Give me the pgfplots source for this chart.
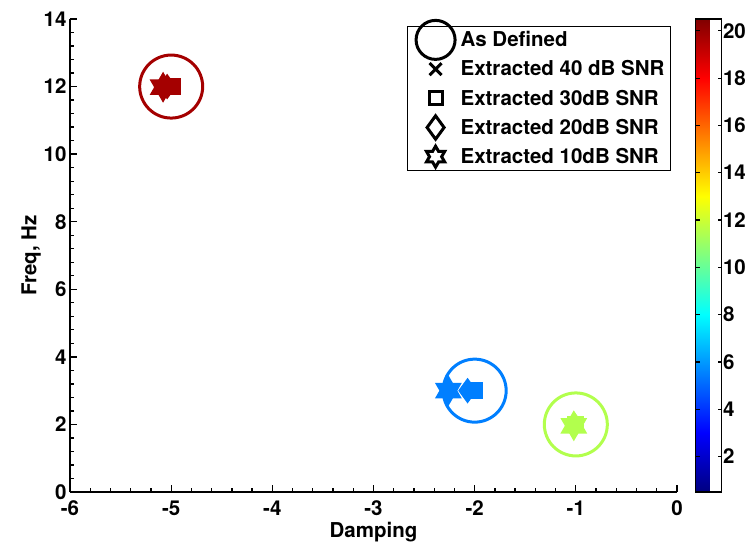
\documentclass[border=0pt]{standalone}
\usepackage{fontspec}
\setmainfont{TeX Gyre Heros}
\usepackage{pgfplots}
\pgfplotsset{compat=1.18}

% six-pointed star outline (outer radius = mark size)
\pgfdeclareplotmark{hexagram}{%
  \pgfpathmoveto{\pgfqpointpolar{90}{\pgfplotmarksize}}%
  \pgfpathlineto{\pgfqpointpolar{120}{0.57735\pgfplotmarksize}}%
  \pgfpathlineto{\pgfqpointpolar{150}{\pgfplotmarksize}}%
  \pgfpathlineto{\pgfqpointpolar{180}{0.57735\pgfplotmarksize}}%
  \pgfpathlineto{\pgfqpointpolar{210}{\pgfplotmarksize}}%
  \pgfpathlineto{\pgfqpointpolar{240}{0.57735\pgfplotmarksize}}%
  \pgfpathlineto{\pgfqpointpolar{270}{\pgfplotmarksize}}%
  \pgfpathlineto{\pgfqpointpolar{300}{0.57735\pgfplotmarksize}}%
  \pgfpathlineto{\pgfqpointpolar{330}{\pgfplotmarksize}}%
  \pgfpathlineto{\pgfqpointpolar{0}{0.57735\pgfplotmarksize}}%
  \pgfpathlineto{\pgfqpointpolar{30}{\pgfplotmarksize}}%
  \pgfpathlineto{\pgfqpointpolar{60}{0.57735\pgfplotmarksize}}%
  \pgfpathclose
  \pgfusepathqfillstroke}
% tall diamond
\pgfdeclareplotmark{tdiamond}{%
  \pgfpathmoveto{\pgfqpoint{0pt}{1.375\pgfplotmarksize}}%
  \pgfpathlineto{\pgfqpoint{\pgfplotmarksize}{0pt}}%
  \pgfpathlineto{\pgfqpoint{0pt}{-1.375\pgfplotmarksize}}%
  \pgfpathlineto{\pgfqpoint{-\pgfplotmarksize}{0pt}}%
  \pgfpathclose
  \pgfusepathqfillstroke}

\newcommand{\chartfont}{\fontsize{20.5}{23}\selectfont\bfseries}

% poles: damping, frequency, colour index
\pgfplotstableread{
x y c
-5 12 19.8
-2 3 5.5
-1 2 11.5
}\defined
\pgfplotstableread{
x y c
-5.00 12.00 19.8
-2.00 3.00 5.5
-1.00 2.00 11.5
}\snrforty
\pgfplotstableread{
x y c
-4.99 12.00 19.8
-2.00 3.00 5.5
-1.00 2.00 11.5
}\snrthirty
\pgfplotstableread{
x y c
-5.04 12.00 19.8
-2.07 3.00 5.5
-1.01 1.98 11.5
}\snrtwenty
\pgfplotstableread{
x y c
-5.08 11.98 19.8
-2.26 3.00 5.5
-1.02 1.96 11.5
}\snrten

\begin{document}
\begin{tikzpicture}
\useasboundingbox (-70pt,-52pt) rectangle (683pt,492pt);
\begin{axis}[
  at={(0pt,0pt)}, anchor=south west,
  scale only axis, width=607pt, height=473pt,
  xmin=-6, xmax=0, ymin=0, ymax=14,
  xtick={-6,-5,...,0}, ytick={0,2,...,14},
  minor x tick num=4, minor y tick num=4,
  axis lines=left, axis line style={-, line width=1.5pt},
  tick align=inside, major tick length=7pt, minor tick length=4pt,
  tick style={black, line width=1.3pt},
  tick label style={font=\chartfont},
  xticklabel style={yshift=-5pt},
  /pgf/number format/assume math mode=true,
  xlabel={Damping}, ylabel={Freq, Hz},
  label style={font=\chartfont},
  ylabel style={yshift=-4pt},
  colormap/jet,
  point meta min=0.5, point meta max=20.5,
  colorbar,
  colorbar style={
    at={(parent axis.south east)}, anchor=south west, xshift=10pt,
    scale only axis, width=26pt, height=473pt,
    ytick={2,4,...,20},
    ytick pos=both, yticklabel pos=right,
    tick align=inside, major tick length=4pt,
    tick style={black, line width=1.2pt},
    axis line style={line width=1.5pt},
    yticklabel style={font=\chartfont, xshift=-2pt},
    /pgf/number format/assume math mode=true,
  },
  legend style={
    at={(1,1)}, anchor=north east, xshift=-6pt, yshift=-7pt,
    font=\chartfont, draw=black, line width=1pt,
    inner xsep=4pt, inner ysep=3pt, row sep=8.5pt,
  },
  legend cell align=left,
]
\addlegendimage{legend image code/.code={
  \draw[overlay, black, line width=3pt, mark=o, mark size=19.5pt] plot coordinates {(24pt,0pt)};
  \path[draw=none, fill=none] (0pt,-6pt) rectangle (47pt,6pt);}}
\addlegendimage{legend image code/.code={
  \draw[overlay, black, line width=3pt, mark=x, mark size=8.5pt] plot coordinates {(24pt,0pt)};
  \path[draw=none, fill=none] (0pt,-6pt) rectangle (47pt,6pt);}}
\addlegendimage{legend image code/.code={
  \draw[overlay, black, fill=white, line width=3pt, mark=square*, mark size=6.5pt] plot coordinates {(24pt,0pt)};
  \path[draw=none, fill=none] (0pt,-6pt) rectangle (47pt,6pt);}}
\addlegendimage{legend image code/.code={
  \draw[overlay, black, fill=white, line width=3pt, mark=tdiamond, mark size=8.5pt] plot coordinates {(24pt,0pt)};
  \path[draw=none, fill=none] (0pt,-6pt) rectangle (47pt,6pt);}}
\addlegendimage{legend image code/.code={
  \draw[overlay, black, fill=white, line width=3pt, mark=hexagram, mark size=10.5pt] plot coordinates {(24pt,0pt)};
  \path[draw=none, fill=none] (0pt,-6pt) rectangle (47pt,6pt);}}

\addplot[forget plot, scatter, only marks, mark=o, mark size=31.5pt,
  line width=3pt, scatter src=explicit,
  scatter/use mapped color={draw=mapped color}] table[meta=c] {\defined};
\addplot[forget plot, scatter, only marks, mark=x, mark size=8pt,
  line width=3pt, scatter src=explicit,
  scatter/use mapped color={draw=mapped color}] table[meta=c] {\snrforty};
\addplot[forget plot, scatter, only marks, mark=square*, mark size=7pt,
  line width=3pt, scatter src=explicit,
  scatter/use mapped color={draw=mapped color, fill=mapped color}] table[meta=c] {\snrthirty};
\addplot[forget plot, scatter, only marks, mark=tdiamond, mark size=7.5pt,
  line width=3pt, scatter src=explicit,
  scatter/use mapped color={draw=mapped color, fill=mapped color}] table[meta=c] {\snrtwenty};
\addplot[forget plot, scatter, only marks, mark=hexagram, mark size=12.5pt,
  line width=3pt, scatter src=explicit,
  scatter/use mapped color={draw=mapped color, fill=mapped color}] table[meta=c] {\snrten};

\legend{As Defined, Extracted 40 dB SNR, Extracted 30dB SNR, Extracted 20dB SNR, Extracted 10dB SNR}
\end{axis}
\end{tikzpicture}
\end{document}
